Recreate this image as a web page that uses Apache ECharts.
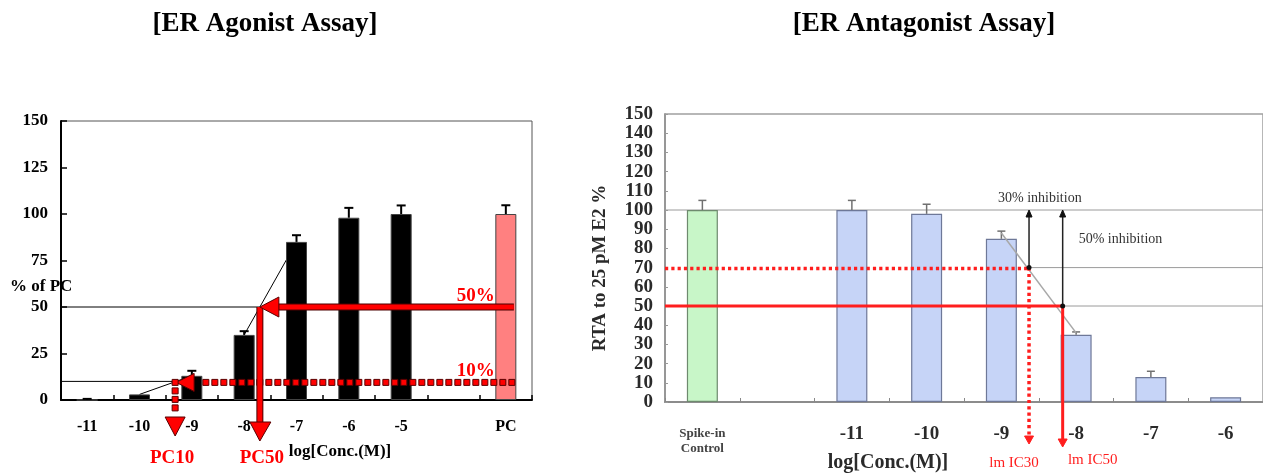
<!DOCTYPE html>
<html><head><meta charset="utf-8">
<script src="https://cdn.jsdelivr.net/npm/echarts@6.0.0/dist/echarts.min.js"></script>
<style>html,body{margin:0;padding:0;background:#fff}#c{width:1263px;height:474px}</style>
</head><body><div id="c"></div>
<script>
const FAM = "'Liberation Serif','Times New Roman',serif";

// ---------- Agonist assay (left) ----------
const agoCategories = ['-11', '-10', '-9', '-8', '-7', '-6', '-5', '', 'PC'];
const agoPositions = [-11, -10, -9, -8, -7, -6, -5, -4, -3];   // log conc (PC placed after a gap)
const agoValues = [0, 3, 13, 35, 85, 98, 100, null, 100];
const agoErrors = [0.6, 0, 2.7, 2, 3.6, 5.3, 4.6, null, 4.7];
const agoLowSegment = [[-10, 3], [-9, 13]];
const agoHighSegment = [[-8, 35], [-7, 85]];
const agoPC10 = -9.3;
const agoPC50 = -7.7;
const agoLevelLow = 10;
const agoLevelHigh = 50;

// ---------- Antagonist assay (right) ----------
const antCategories = ['Spike-in\nControl', '', '-11', '-10', '-9', '-8', '-7', '-6'];
const antPositions = [-13, -12, -11, -10, -9, -8, -7, -6];
const antValues = [100, null, 100, 98, 85, 35, 13, 2.5];
const antErrors = [5, null, 5, 5, 4, 1.5, 3, 0];
const antFitLine = [[-9, 88], [-8, 36]];
const antIC30 = -8.63;
const antIC50 = -8.18;
const antLevel30 = 70;
const antLevel50 = 50;
const antFullLevel = 100;

const chart = echarts.init(document.getElementById('c'), null, {renderer: 'canvas'});

function errRender(capHalf, color, lw) {
  return function (params, api) {
    const i = api.value(0), v = api.value(1), e = api.value(2);
    if (isNaN(v) || !(e > 0)) return null;
    const b = api.coord([i, v]), t = api.coord([i, v + e]);
    return {type: 'group', children: [
      {type: 'line', shape: {x1: b[0], y1: b[1], x2: t[0], y2: t[1]}, style: {stroke: color, lineWidth: lw}},
      {type: 'line', shape: {x1: t[0] - capHalf, y1: t[1], x2: t[0] + capHalf, y2: t[1]}, style: {stroke: color, lineWidth: lw}}
    ]};
  };
}

function sq(x, y, s) {
  return {type: 'rect', shape: {x: x - s / 2, y: y - s / 2, width: s, height: s},
          style: {fill: '#ff0000', stroke: '#5a0000', lineWidth: 1}};
}
function thickRed(x1, y1, x2, y2) {
  return [
    {type: 'line', shape: {x1, y1, x2, y2}, style: {stroke: '#4a0000', lineWidth: 7}},
    {type: 'line', shape: {x1, y1, x2, y2}, style: {stroke: '#ff0000', lineWidth: 5}}
  ];
}
function tri(points, fill, stroke) {
  return {type: 'polygon', shape: {points}, style: {fill, stroke, lineWidth: 1}};
}

function agoAnno(params, api) {
  const L = api.coord([-11.5, 0]);
  const leftX = L[0], axisY = L[1];
  const p50 = api.coord([agoPC50, agoLevelHigh]);
  const p10 = api.coord([agoPC10, agoLevelLow]);
  const pc = api.coord([agoPositions[8], 0]);
  const startX = pc[0] + 8;
  const ch = [];
  ch.push({type: 'line', shape: {x1: leftX, y1: p50[1], x2: p50[0], y2: p50[1]}, style: {stroke: '#000', lineWidth: 1}});
  ch.push({type: 'line', shape: {x1: leftX, y1: p10[1], x2: p10[0], y2: p10[1]}, style: {stroke: '#000', lineWidth: 1}});
  for (let x = startX - 2; x >= p10[0] + 22; x -= 9) ch.push(sq(x, p10[1] + 1, 6));
  ch.push(tri([[p10[0], p10[1] + 1], [p10[0] + 18, p10[1] - 8], [p10[0] + 18, p10[1] + 10]], '#ff0000', '#5a0000'));
  for (let y = p10[1] + 1; y <= axisY + 14; y += 8.5) ch.push(sq(p10[0] - 1, y, 6));
  ch.push(tri([[p10[0] - 11, axisY + 17], [p10[0] + 9, axisY + 17], [p10[0] - 1, axisY + 36]], '#ff0000', '#5a0000'));
  ch.push(...thickRed(startX, p50[1], p50[0] + 17, p50[1]));
  ch.push(...thickRed(p50[0], p50[1], p50[0], axisY + 23));
  ch.push(tri([[p50[0], p50[1]], [p50[0] + 19, p50[1] - 10], [p50[0] + 19, p50[1] + 10]], '#ff0000', '#5a0000'));
  ch.push(tri([[p50[0] - 10, axisY + 22], [p50[0] + 11, axisY + 22], [p50[0], axisY + 41]], '#ff0000', '#5a0000'));
  const lf = 'bold 19px ' + FAM;
  ch.push({type: 'text', x: pc[0] - 11, y: p50[1] - 1, style: {text: agoLevelHigh + '%', font: lf, fill: '#ff0000', align: 'right', verticalAlign: 'bottom'}});
  ch.push({type: 'text', x: pc[0] - 11, y: p10[1] - 1, style: {text: agoLevelLow + '%', font: lf, fill: '#ff0000', align: 'right', verticalAlign: 'bottom'}});
  ch.push({type: 'text', x: p10[0] - 4, y: axisY + 58, style: {text: 'PC10', font: lf, fill: '#ff0000', align: 'center', verticalAlign: 'middle'}});
  ch.push({type: 'text', x: p50[0] + 2, y: axisY + 58, style: {text: 'PC50', font: lf, fill: '#ff0000', align: 'center', verticalAlign: 'middle'}});
  return {type: 'group', children: ch};
}

function antGrayLines(params, api) {
  const leftX = api.coord([-13.5, 0])[0];
  const rightX = api.coord([-5.5, 0])[0];
  const y100 = api.coord([-10, antFullLevel])[1];
  const p30 = api.coord([antIC30, antLevel30]);
  const p50 = api.coord([antIC50, antLevel50]);
  const st = {stroke: '#9a9a9a', lineWidth: 1};
  return {type: 'group', children: [
    {type: 'line', shape: {x1: leftX, y1: y100, x2: rightX, y2: y100}, style: st},
    {type: 'line', shape: {x1: p30[0], y1: p30[1], x2: rightX, y2: p30[1]}, style: st},
    {type: 'line', shape: {x1: p50[0], y1: p50[1], x2: rightX, y2: p50[1]}, style: st}
  ]};
}

function antAnno(params, api) {
  const L = api.coord([-13.5, 0]);
  const leftX = L[0], axisY = L[1];
  const y100 = api.coord([-10, antFullLevel])[1];
  const p30 = api.coord([antIC30, antLevel30]);
  const p50 = api.coord([antIC50, antLevel50]);
  const f0 = api.coord(antFitLine[0]), f1 = api.coord(antFitLine[1]);
  const red = '#ff1e1e';
  const ch = [];
  ch.push({type: 'line', shape: {x1: f0[0], y1: f0[1], x2: f1[0], y2: f1[1]}, style: {stroke: '#a8a8a8', lineWidth: 1.5}});
  ch.push({type: 'line', shape: {x1: leftX, y1: p30[1] + 1, x2: p30[0], y2: p30[1] + 1}, style: {stroke: red, lineWidth: 3.5, lineDash: [3.2, 3.1]}});
  ch.push({type: 'line', shape: {x1: leftX, y1: p50[1], x2: p50[0], y2: p50[1]}, style: {stroke: red, lineWidth: 3}});
  ch.push({type: 'line', shape: {x1: p30[0], y1: p30[1], x2: p30[0], y2: axisY + 34}, style: {stroke: red, lineWidth: 3.5, lineDash: [3.2, 3.1]}});
  ch.push(tri([[p30[0] - 4.5, axisY + 34], [p30[0] + 4.5, axisY + 34], [p30[0], axisY + 42]], red, red));
  ch.push({type: 'line', shape: {x1: p50[0], y1: p50[1], x2: p50[0], y2: axisY + 37}, style: {stroke: red, lineWidth: 3}});
  ch.push(tri([[p50[0] - 4.5, axisY + 37], [p50[0] + 4.5, axisY + 37], [p50[0], axisY + 45]], red, red));
  [p30, p50].forEach(p => {
    ch.push({type: 'line', shape: {x1: p[0], y1: p[1], x2: p[0], y2: y100 + 6}, style: {stroke: '#222', lineWidth: 1.5}});
    ch.push(tri([[p[0] - 3, y100 + 7], [p[0] + 3, y100 + 7], [p[0], y100]], '#111', '#111'));
    ch.push({type: 'circle', shape: {cx: p[0], cy: p[1], r: 2.5}, style: {fill: '#111'}});
  });
  const tf = '15px ' + FAM;
  ch.push({type: 'text', x: p30[0] - 15, y: axisY + 61, style: {text: 'lm IC30', font: tf, fill: red, align: 'center', verticalAlign: 'middle'}});
  ch.push({type: 'text', x: p50[0] + 30, y: axisY + 58, style: {text: 'lm IC50', font: tf, fill: red, align: 'center', verticalAlign: 'middle'}});
  const nf = '14px ' + FAM;
  ch.push({type: 'text', x: p30[0] - 31, y: y100 - 12, style: {text: '30% inhibition', font: nf, fill: '#333', align: 'left', verticalAlign: 'middle'}});
  ch.push({type: 'text', x: p50[0] + 16, y: y100 + 29, style: {text: '50% inhibition', font: nf, fill: '#333', align: 'left', verticalAlign: 'middle'}});
  return {type: 'group', children: ch};
}

const agoBarData = agoValues.map((v, i) => ({
  value: v,
  itemStyle: agoCategories[i] === 'PC'
    ? {color: '#ff8080', borderColor: '#444', borderWidth: 1}
    : {color: '#000', borderColor: '#444', borderWidth: 1}
}));
const antBarData = antValues.map((v, i) => ({
  value: v,
  itemStyle: i === 0
    ? {color: '#c8f6c8', borderColor: '#6e8a6e', borderWidth: 1.2}
    : {color: '#c6d4f7', borderColor: '#6e7898', borderWidth: 1.2}
}));

const option = {
  animation: false,
  backgroundColor: '#fff',
  grid: [
    {left: 61, top: 121, width: 471, height: 279, show: true, borderColor: '#555', borderWidth: 1},
    {left: 665, top: 114, width: 605, height: 288, show: true, borderColor: '#a0a0a0', borderWidth: 1.5}
  ],
  xAxis: [
    {type: 'category', gridIndex: 0, data: agoCategories, boundaryGap: true,
     axisLine: {lineStyle: {color: '#000', width: 2}},
     axisTick: {show: true, inside: true, length: 5, lineStyle: {color: '#000', width: 1.5}},
     axisLabel: {interval: 0, margin: 19, color: '#000', fontFamily: FAM, fontWeight: 'bold', fontSize: 16}},
    {type: 'value', gridIndex: 0, min: -11.5, max: -2.5, show: false},
    {type: 'category', gridIndex: 1, data: antCategories, boundaryGap: true,
     axisLine: {lineStyle: {color: '#8c8c8c', width: 2}},
     axisTick: {show: true, inside: true, length: 4, lineStyle: {color: '#888', width: 1}},
     axisLabel: {interval: 0, margin: 23, color: '#2a2a2a', fontFamily: FAM, fontWeight: 'bold', fontSize: 19,
       formatter: function (v) {
         if (v.indexOf('\n') >= 0) return v.split('\n').map(s => '{s|' + s + '}').join('\n');
         return v;
       },
       rich: {s: {fontFamily: FAM, fontWeight: 'bold', fontSize: 13, color: '#444', lineHeight: 15, padding: [3, 0, 0, 0]}}}},
    {type: 'value', gridIndex: 1, min: -13.5, max: -5.5, show: false}
  ],
  yAxis: [
    {type: 'value', gridIndex: 0, min: 0, max: 150, interval: 25,
     axisLine: {show: true, lineStyle: {color: '#000', width: 2}},
     axisTick: {show: true, inside: true, length: 6, lineStyle: {color: '#000', width: 1.5}},
     axisLabel: {margin: 13, color: '#000', fontFamily: FAM, fontWeight: 'bold', fontSize: 17},
     splitLine: {show: false}},
    {type: 'value', gridIndex: 1, min: 0, max: 150, interval: 10,
     axisLine: {show: true, lineStyle: {color: '#8c8c8c', width: 1.5}},
     axisTick: {show: true, inside: true, length: 3, lineStyle: {color: '#999', width: 1}},
     axisLabel: {margin: 12, color: '#2a2a2a', fontFamily: FAM, fontWeight: 'bold', fontSize: 19},
     splitLine: {show: false}}
  ],
  series: [
    {type: 'line', xAxisIndex: 1, yAxisIndex: 0, data: agoLowSegment, symbol: 'none', z: 1,
     lineStyle: {color: '#000', width: 1}},
    {type: 'line', xAxisIndex: 1, yAxisIndex: 0, data: agoHighSegment, symbol: 'none', z: 1,
     lineStyle: {color: '#000', width: 1}},
    {type: 'bar', xAxisIndex: 0, yAxisIndex: 0, data: agoBarData, barWidth: 21, z: 2},
    {type: 'custom', xAxisIndex: 0, yAxisIndex: 0, z: 3,
     data: agoValues.map((v, i) => [i, v, agoErrors[i]]).filter(d => d[1] !== null),
     renderItem: errRender(4.5, '#000', 2)},
    {type: 'custom', xAxisIndex: 1, yAxisIndex: 0, z: 5, data: [[-7, 50]], renderItem: agoAnno},

    {type: 'custom', xAxisIndex: 3, yAxisIndex: 1, z: 1, data: [[-9, 50]], renderItem: antGrayLines},
    {type: 'bar', xAxisIndex: 2, yAxisIndex: 1, data: antBarData, barWidth: 31, z: 2},
    {type: 'custom', xAxisIndex: 2, yAxisIndex: 1, z: 3,
     data: antValues.map((v, i) => [i, v, antErrors[i]]).filter(d => d[1] !== null),
     renderItem: errRender(4, '#707070', 1.5)},
    {type: 'custom', xAxisIndex: 3, yAxisIndex: 1, z: 5, data: [[-8, 50]], renderItem: antAnno}
  ],
  graphic: [
    {type: 'text', x: 265, y: 24, z: 10, style: {text: '[ER Agonist Assay]', font: 'bold 27px ' + FAM, fill: '#000', align: 'center', verticalAlign: 'middle'}},
    {type: 'text', x: 924, y: 24, z: 10, style: {text: '[ER Antagonist Assay]', font: 'bold 27px ' + FAM, fill: '#000', align: 'center', verticalAlign: 'middle'}},
    {type: 'text', x: 10, y: 287, z: 10, style: {text: '% of PC', font: 'bold 17px ' + FAM, fill: '#000', align: 'left', verticalAlign: 'middle'}},
    {type: 'text', x: 340, y: 452, z: 10, style: {text: 'log[Conc.(M)]', font: 'bold 17px ' + FAM, fill: '#000', align: 'center', verticalAlign: 'middle'}},
    {type: 'text', x: 888, y: 463, z: 10, style: {text: 'log[Conc.(M)]', font: 'bold 20px ' + FAM, fill: '#2a2a2a', align: 'center', verticalAlign: 'middle'}},
    {type: 'text', x: 600, y: 268, z: 10, rotation: Math.PI / 2, style: {text: 'RTA to 25 pM E2 %', font: 'bold 19px ' + FAM, fill: '#2a2a2a', align: 'center', verticalAlign: 'middle'}}
  ]
};
chart.setOption(option);
</script>
</body></html>
